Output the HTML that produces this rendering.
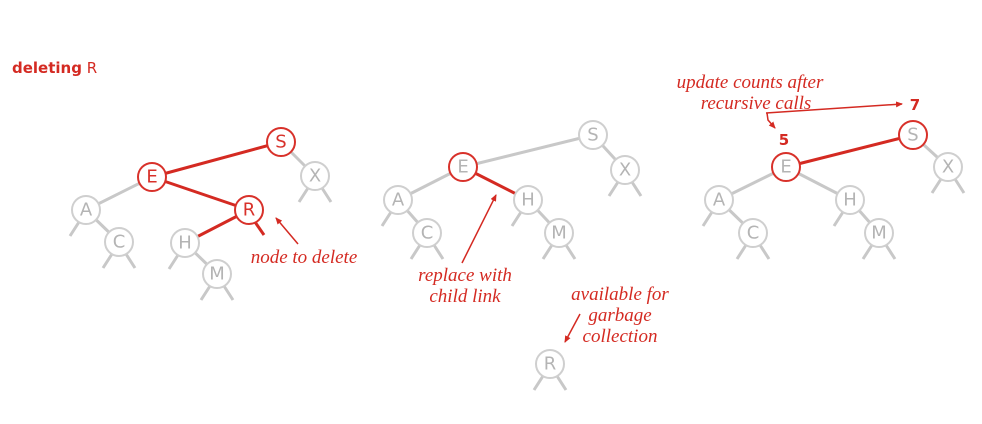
<!DOCTYPE html>
<html><head><meta charset="utf-8"><style>
html,body{margin:0;padding:0;background:#fff;width:982px;height:424px;overflow:hidden}
svg{display:block}
.n{fill:#fff;stroke:#cfcfcf;stroke-width:2}
.nr{fill:#fff;stroke:#d8312a;stroke-width:2}
.g{stroke:#c8c8c8;stroke-width:3;fill:none}
.r{stroke:#d42a22;stroke-width:3;fill:none}
.t{font-family:"DejaVu Sans","Liberation Sans",sans-serif;font-size:18px;fill:#b4b4b4;text-anchor:middle;dominant-baseline:central}
.tr{fill:#d8312a}
.it{font-family:"Liberation Serif",serif;font-style:italic;font-size:19px;fill:#d42a22;text-anchor:middle}
.a{stroke:#d42a22;stroke-width:1.5;fill:none}
</style></head><body>
<svg width="982" height="424" viewBox="0 0 982 424">
<defs><marker id="m" markerWidth="8" markerHeight="8" refX="6" refY="3" orient="auto" markerUnits="userSpaceOnUse"><path d="M0,0 L7,3 L0,6 Z" fill="#d42a22"/></marker></defs>
<text x="12" y="73" style="font-family:'DejaVu Sans','Liberation Sans',sans-serif;font-size:15px;fill:#d42a22"><tspan font-weight="bold">deleting</tspan> R</text>

<!-- Tree 1 -->
<line class="r" x1="152" y1="177" x2="281" y2="142"/>
<line class="r" x1="152" y1="177" x2="249" y2="210"/>
<line class="r" x1="249" y1="210" x2="185" y2="243"/>
<line class="r" x1="255" y1="222" x2="264" y2="235"/>
<line class="g" x1="152" y1="177" x2="86" y2="210"/>
<line class="g" x1="281" y1="142" x2="315" y2="176"/>
<line class="g" x1="86" y1="210" x2="119" y2="242"/>
<line class="g" x1="185" y1="243" x2="217" y2="274"/>
<path class="g" d="M79,222 L70,236 M308,188 L299,202 M322,188 L331,202 M112,254 L103,268 M126,254 L135,268 M178,255 L169,269 M210,286 L201,300 M224,286 L233,300"/>
<circle class="nr" cx="281" cy="142" r="14"/><text class="t tr" x="281" y="142">S</text>
<circle class="nr" cx="152" cy="177" r="14"/><text class="t tr" x="152" y="177">E</text>
<circle class="nr" cx="249" cy="210" r="14"/><text class="t tr" x="249" y="210">R</text>
<circle class="n" cx="315" cy="176" r="14"/><text class="t" x="315" y="176">X</text>
<circle class="n" cx="86" cy="210" r="14"/><text class="t" x="86" y="210">A</text>
<circle class="n" cx="119" cy="242" r="14"/><text class="t" x="119" y="242">C</text>
<circle class="n" cx="185" cy="243" r="14"/><text class="t" x="185" y="243">H</text>
<circle class="n" cx="217" cy="274" r="14"/><text class="t" x="217" y="274">M</text>
<text class="it" x="304" y="263">node to delete</text>
<line class="a" x1="298" y1="244" x2="276" y2="218" marker-end="url(#m)"/>

<!-- Tree 2 -->
<line class="g" x1="463" y1="167" x2="593" y2="135"/>
<line class="g" x1="463" y1="167" x2="398" y2="200"/>
<line class="r" x1="463" y1="167" x2="528" y2="200"/>
<line class="g" x1="593" y1="135" x2="625" y2="170"/>
<line class="g" x1="398" y1="200" x2="427" y2="233"/>
<line class="g" x1="528" y1="200" x2="559" y2="233"/>
<path class="g" d="M391,212 L382,226 M618,182 L609,196 M632,182 L641,196 M420,245 L411,259 M434,245 L443,259 M521,212 L512,226 M552,245 L543,259 M566,245 L575,259 M543,376 L534,390 M557,376 L566,390"/>
<circle class="n" cx="593" cy="135" r="14"/><text class="t" x="593" y="135">S</text>
<circle class="nr" cx="463" cy="167" r="14"/><text class="t" x="463" y="167">E</text>
<circle class="n" cx="625" cy="170" r="14"/><text class="t" x="625" y="170">X</text>
<circle class="n" cx="398" cy="200" r="14"/><text class="t" x="398" y="200">A</text>
<circle class="n" cx="528" cy="200" r="14"/><text class="t" x="528" y="200">H</text>
<circle class="n" cx="427" cy="233" r="14"/><text class="t" x="427" y="233">C</text>
<circle class="n" cx="559" cy="233" r="14"/><text class="t" x="559" y="233">M</text>
<circle class="n" cx="550" cy="364" r="14"/><text class="t" x="550" y="364">R</text>
<text class="it" x="465" y="281">replace with</text>
<text class="it" x="465" y="302">child link</text>
<line class="a" x1="462" y1="263" x2="496" y2="195" marker-end="url(#m)"/>
<text class="it" x="620" y="300">available for</text>
<text class="it" x="620" y="321">garbage</text>
<text class="it" x="620" y="342">collection</text>
<line class="a" x1="580" y1="314" x2="565" y2="342" marker-end="url(#m)"/>

<!-- Tree 3 -->
<line class="r" x1="786" y1="167" x2="913" y2="135"/>
<line class="g" x1="786" y1="167" x2="719" y2="200"/>
<line class="g" x1="786" y1="167" x2="850" y2="200"/>
<line class="g" x1="913" y1="135" x2="948" y2="167"/>
<line class="g" x1="719" y1="200" x2="753" y2="233"/>
<line class="g" x1="850" y1="200" x2="879" y2="233"/>
<path class="g" d="M712,212 L703,226 M941,179 L932,193 M955,179 L964,193 M746,245 L737,259 M760,245 L769,259 M843,212 L834,226 M872,245 L863,259 M886,245 L895,259"/>
<circle class="nr" cx="913" cy="135" r="14"/><text class="t" x="913" y="135">S</text>
<circle class="nr" cx="786" cy="167" r="14"/><text class="t" x="786" y="167">E</text>
<circle class="n" cx="948" cy="167" r="14"/><text class="t" x="948" y="167">X</text>
<circle class="n" cx="719" cy="200" r="14"/><text class="t" x="719" y="200">A</text>
<circle class="n" cx="850" cy="200" r="14"/><text class="t" x="850" y="200">H</text>
<circle class="n" cx="753" cy="233" r="14"/><text class="t" x="753" y="233">C</text>
<circle class="n" cx="879" cy="233" r="14"/><text class="t" x="879" y="233">M</text>
<text class="it" x="750" y="88">update counts after</text>
<text class="it" x="756" y="109">recursive calls</text>
<path class="a" d="M766,113 L902,104" marker-end="url(#m)"/>
<path class="a" d="M767,113 L768,120 L775,128" marker-end="url(#m)"/>
<text x="915" y="110" style="font-family:'DejaVu Sans',sans-serif;font-weight:bold;font-size:15px;fill:#d42a22" text-anchor="middle">7</text>
<text x="784" y="145" style="font-family:'DejaVu Sans',sans-serif;font-weight:bold;font-size:15px;fill:#d42a22" text-anchor="middle">5</text>
</svg>
</body></html>
